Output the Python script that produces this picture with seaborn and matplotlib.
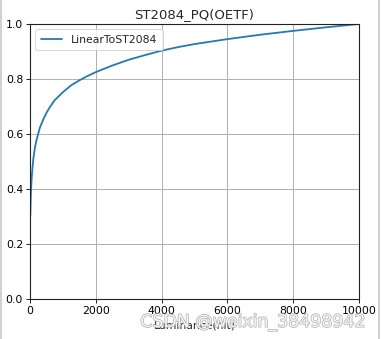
import matplotlib
matplotlib.use("Agg")
import matplotlib.pyplot as plt
import matplotlib.patheffects as pe
from matplotlib.lines import Line2D
import seaborn as sns
import pandas as pd

# PQ (ST 2084) encoded signal versus absolute luminance in nits
luminance = [10, 20, 30, 50, 75, 100, 150, 200, 300, 400, 500, 600, 750,
             1000, 1250, 1500, 1750, 2000, 2500, 3000, 3500, 4000, 4500,
             5000, 6000, 7000, 8000, 9000, 10000]
signal = [0.301, 0.357, 0.392, 0.438, 0.476, 0.508, 0.551, 0.579, 0.623,
          0.652, 0.677, 0.697, 0.723, 0.752, 0.777, 0.795, 0.811, 0.825,
          0.849, 0.870, 0.887, 0.903, 0.916, 0.927, 0.945, 0.961, 0.975,
          0.988, 1.0]
series_name = "LinearToST2084"
x_ticks = [0, 2000, 4000, 6000, 8000, 10000]
y_ticks = [0.0, 0.2, 0.4, 0.6, 0.8, 1.0]

sns.set_style("ticks")
plt.rcParams["font.family"] = ["DejaVu Sans"]

df = pd.DataFrame({"Luminance": luminance, "Signal": signal, "curve": series_name})

fig = plt.figure(figsize=(3.83, 3.39), dpi=100)
ax = fig.add_axes([30 / 383, 1 - 299 / 339, 329 / 383, 275 / 339])

sns.lineplot(data=df, x="Luminance", y="Signal", hue="curve",
             palette=["#2878ae"], linewidth=1.3, ax=ax)

ax.set_xlim(0, 10000)
ax.set_ylim(0, 1.0)
ax.set_xticks(x_ticks)
ax.set_yticks(y_ticks)
ax.set_xticklabels([str(v) for v in x_ticks])
ax.set_yticklabels([f"{v:.1f}" for v in y_ticks])
ax.grid(True, color="#b0b0b0", linewidth=0.7)
ax.set_axisbelow(True)
for s in ax.spines.values():
    s.set_color("#222222")
    s.set_linewidth(0.8)
ax.tick_params(labelsize=7.8, length=3, width=0.7, colors="#222222",
               labelcolor="black", pad=2)

ax.set_title("ST2084_PQ(OETF)", fontsize=9.5, pad=4)
ax.set_xlabel("Luminance(nit)", fontsize=7.8, labelpad=3)
ax.set_ylabel("")

leg = ax.legend(loc="upper left", fontsize=7.8, frameon=True,
                handlelength=2.0, borderpad=0.5, fancybox=True)
leg.get_frame().set_edgecolor("#cccccc")
leg.get_frame().set_linewidth(0.7)
leg.get_frame().set_alpha(0.8)

# watermark
fig.text(253 / 383, 1 - 322 / 339, "CSDN @weixin_38498942", fontsize=12.5,
         ha="center", va="center", color="#f4f4f4",
         path_effects=[pe.withStroke(linewidth=1.0, foreground="#b0b0b0")])

# thin window frame along the sides
for xf in (1.5 / 383, 378.5 / 383):
    fig.add_artist(Line2D([xf, xf], [0, 1], transform=fig.transFigure,
                          color="#c8c8c8", linewidth=1.2))

fig.savefig("out.png", dpi=100)
